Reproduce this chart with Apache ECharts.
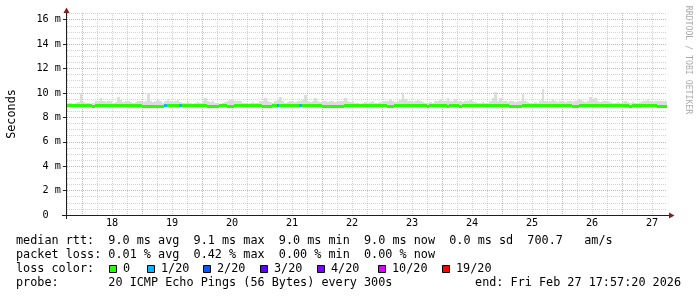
<!DOCTYPE html>
<html><head><meta charset="utf-8">
<script src="https://cdn.jsdelivr.net/npm/echarts@6/dist/echarts.min.js"></script>
<style>html,body{margin:0;padding:0;background:#fff}#c{width:697px;height:297px}</style>
</head><body><div id="c"></div>
<script>
// ---- time base: hours after Feb 17 2026 00:00 ----
const startHour = 17 + 57/60 + 20/3600;   // Feb 17 17:57:20
const endHour = startHour + 240;          // Feb 27 17:57:20
const stepHours = 1;

// ---- tick data ----
const dayLabels = ['18','19','20','21','22','23','24','25','26','27'];
const dayLabelHours = [36,60,84,108,132,156,180,204,228,252];     // noon of each day
const midnightHours = [24,48,72,96,120,144,168,192,216,240];
const sixHourHours = [18,30,36,42,54,60,66,78,84,90,102,108,114,126,132,138,150,156,162,174,180,186,198,204,210,222,228,234,246,252];
const yMajorTicks = [0,2,4,6,8,10,12,14,16];
const yMajorLabels = ['0  ','2 m','4 m','6 m','8 m','10 m','12 m','14 m','16 m'];
const yMinorTicks = [0.5,1,1.5,2.5,3,3.5,4.5,5,5.5,6.5,7,7.5,8.5,9,9.5,10.5,11,11.5,12.5,13,13.5,14.5,15,15.5,16.5];

// ---- series data (ms), one value per hour ----
const medianMs = [
9,9,9,9,9,9,9,9,9,9, 8.92,9,9,9,9,9,9,9,9,9,
9,9,9,9,8.96,8.96,8.96,8.96,8.96,8.96, 8.92,8.92,8.92,8.92,8.92,8.92,8.92,8.92,8.92,9,
9,9,9,9,9,9,9,9,9,9, 9,9,9,9,9,9,8.92,8.92,8.92,8.92,
8.92,9,9,9,8.92,8.92,8.92,9,9,9, 9,9,9,9,9,9,9,9,8.92,8.92,
8.92,8.92,9,9,9,9,9,9,9,9, 9,9,9,9,9,9,9,9,9,9,
9,9,8.92,8.92,8.92,8.92,8.92,8.92,8.92,8.92, 8.92,9,9,9,9,9,9,9,9,9,
9,9,9,9,9,9,9,9,8.92,8.92, 8.92,9,9,9,9,9,9,9,9,9,
9,9,9,9,8.92,9,9,9,9,9, 9,9,8.92,9,9,9,9,8.92,9,9,
9,9,9,9,9,9,9,9,9,9, 9,9,9,9,9,9,9,8.92,8.92,8.92,
8.92,8.92,9,9,9,9,9,9,9,9, 9,9,9,9,9,9,9,9,9,9,
9,9,8.92,8.92,8.92,9,9,9,9,9, 9,9,9,9,9,9,9,9,9,9,
9,9,9,9,9,8.92,9,9,9,9, 9,9,9,9,9,9,8.9,8.9,8.9,8.9
];
const smokeHiMs = [
9.2,9.2,9.1,9.2,9.25,9.97,9.25,9.2,9.2,9.1, 9.2,9.3,9.35,9.56,9.3,9.25,9.3,9.3,9.2,9.25,
9.7,9.4,9.25,9.3,9.35,9.25,9.2,9.25,9.3,9.3, 9.25,9.35,9.97,9.3,9.25,9.3,9.4,9.3,9.2,9.3,
9.5,9.3,9.25,9.3,9.4,9.25,9.2,9.2,9.25,9.2, 9.1,9.2,9.25,9.2,9.3,9.56,9.3,9.25,9.3,9.2,
9.2,9.1,9.2,9.25,9.3,9.4,9.4,9.3,9.35,9.3, 9.2,9.2,9.1,9.2,9.25,9.2,9.2,9.3,9.35,9.56,
9.3,9.25,9.2,9.3,9.5,9.7,9.3,9.2,9.25,9.3, 9.3,9.25,9.3,9.3,9.4,9.84,9.3,9.25,9.3,9.56,
9.3,9.25,9.3,9.3,9.25,9.3,9.3,9.25,9.3,9.35, 9.3,9.56,9.3,9.25,9.3,9.2,9.2,9.1,9.2,9.25,
9.2,9.25,9.3,9.2,9.2,9.25,9.3,9.3,9.35,9.5, 9.3,9.25,9.3,9.4,9.97,9.5,9.3,9.3,9.25,9.3,
9.4,9.3,9.25,9.2,9.2,9.25,9.2,9.3,9.35,9.5, 9.3,9.3,9.6,9.3,9.35,9.5,9.3,9.3,9.25,9.3,
9.3,9.4,9.3,9.25,9.2,9.2,9.25,9.2,9.2,9.3, 9.6,10.1,9.3,9.6,9.3,9.3,9.25,9.3,9.3,9.25,
9.3,9.35,9.9,9.3,9.25,9.2,9.2,9.25,9.2,9.3, 10.3,9.35,9.25,9.3,9.5,9.3,9.25,9.3,9.3,9.25,
9.3,9.3,9.25,9.3,9.5,9.4,9.3,9.25,9.3,9.7, 9.4,9.6,9.3,9.25,9.3,9.3,9.3,9.25,9.2,9.2,
9.25,9.2,9.25,9.3,9.25,9.2,9.25,9.2,9.2,9.25, 9.3,9.35,9.5,9.3,9.25,9.3,9.3,9.35,9.3,9.3
];
const smokeLoMs = [
8.95,8.95,8.95,8.95,8.95,8.95,8.95,8.95,8.95,8.95, 8.95,8.95,8.95,8.95,8.95,8.95,8.95,8.95,8.95,8.95,
8.95,8.95,8.95,8.95,8.78,8.78,8.78,8.78,8.78,8.78, 8.95,8.95,8.95,8.95,8.95,8.95,8.95,8.95,8.95,8.95,
8.95,8.95,8.95,8.95,8.95,8.95,8.95,8.95,8.95,8.95, 8.95,8.95,8.95,8.95,8.95,8.95,8.95,8.95,8.95,8.95,
8.95,8.95,8.95,8.95,8.95,8.95,8.95,8.95,8.95,8.95, 8.95,8.95,8.95,8.95,8.95,8.95,8.95,8.95,8.78,8.78,
8.78,8.78,8.78,8.95,8.95,8.95,8.95,8.95,8.95,8.95, 8.95,8.95,8.95,8.95,8.95,8.95,8.95,8.95,8.95,8.95,
8.95,8.95,8.95,8.95,8.95,8.95,8.95,8.95,8.95,8.95, 8.95,8.95,8.95,8.95,8.95,8.95,8.95,8.95,8.95,8.95,
8.95,8.95,8.95,8.95,8.95,8.95,8.95,8.95,8.95,8.95, 8.95,8.95,8.95,8.95,8.95,8.95,8.95,8.95,8.95,8.95,
8.95,8.95,8.95,8.95,8.95,8.95,8.95,8.95,8.95,8.95, 8.78,8.78,8.78,8.78,8.95,8.95,8.95,8.95,8.95,8.95,
8.95,8.95,8.95,8.95,8.95,8.95,8.95,8.95,8.95,8.95, 8.95,8.95,8.95,8.95,8.95,8.95,8.95,8.95,8.95,8.95,
8.95,8.95,8.95,8.95,8.95,8.95,8.95,8.95,8.95,8.95, 8.95,8.95,8.95,8.95,8.95,8.95,8.95,8.95,8.95,8.95,
8.95,8.95,8.95,8.95,8.95,8.95,8.95,8.95,8.95,8.95, 8.95,8.95,8.95,8.95,8.95,8.95,8.95,8.95,8.95,8.95,
8.95,8.95,8.78,8.78,8.78,8.78,8.78,8.78,8.78,8.78, 8.95,8.95,8.95,8.95,8.95,8.95,8.78,8.78,8.78,8.78
];
// loss (pings lost of 20) at given hourly bins; all other bins lost 0
const lossBins = [39,45,84,93];
const lossPings = [1,1,1,1];

// ---- legend data ----
const lossLevels = [0,1,2,3,4,10,19];
const lossLabels = ['0','1/20','2/20','3/20','4/20','10/20','19/20'];
const lossColors = ['#26ff00','#00b8ff','#0059ff','#5e00ff','#7e00ff','#dd00ff','#ff0000'];
const rttLine = 'median rtt:  9.0 ms avg  9.1 ms max  9.0 ms min  9.0 ms now  0.0 ms sd  700.7   am/s';
const lossLine = 'packet loss: 0.01 % avg  0.42 % max  0.00 % min  0.00 % now';
const probeLine = 'probe:       20 ICMP Echo Pings (56 Bytes) every 300s';
const endLine = 'end: Fri Feb 27 17:57:20 2026';

function colorForLoss(n){
  let c = lossColors[0];
  for (let k=0;k<lossLevels.length;k++) if (n>=lossLevels[k]) c = lossColors[k];
  return c;
}

const lossArr = medianMs.map(()=>0);
lossBins.forEach((b,k)=>{ lossArr[b] = lossPings[k]; });
const binHour = i => startHour + (i+0.5)*stepHours;
const smokeData = smokeHiMs.map((hi,i)=>[binHour(i), smokeLoMs[i], hi]);
const medianData = medianMs.map((m,i)=>[binHour(i), m, lossArr[i]]);

const MONO = "'DejaVu Sans Mono', monospace";
const LEG_FS = 11.8, AX_FS = 10.2;
const majorColor = 'rgba(222,79,79,0.5)';
const minorColor = 'rgba(143,143,143,0.38)';

const chart = echarts.init(document.getElementById('c'), null, {renderer:'canvas'});

const graphics = [];
// axes lines & arrows
graphics.push({type:'line', z:100, shape:{x1:66.5,y1:12,x2:66.5,y2:219}, style:{stroke:'#1f1f1f',lineWidth:1}});
graphics.push({type:'line', z:100, shape:{x1:62,y1:215.5,x2:670,y2:215.5}, style:{stroke:'#1f1f1f',lineWidth:1}});
graphics.push({type:'polygon', z:101, shape:{points:[[63.5,13],[69.5,13],[66.5,7.5]]}, style:{fill:'#801f1f'}});
graphics.push({type:'polygon', z:101, shape:{points:[[669,212.5],[669,218.5],[674.5,215.5]]}, style:{fill:'#801f1f'}});
// y title
graphics.push({type:'text', x:11.5, y:114, rotation:Math.PI/2, style:{text:'Seconds', font:LEG_FS+'px '+MONO, fill:'#000', align:'center', verticalAlign:'middle'}});
// watermark
graphics.push({type:'text', x:688, y:60, rotation:-Math.PI/2, style:{text:'RRDTOOL / TOBI OETIKER', font:'8.2px '+MONO, fill:'#aaaaaa', align:'center', verticalAlign:'middle'}});
// legend rows
const rowY = [241, 255, 269.2, 283.3];
graphics.push({type:'text', x:16, y:rowY[0], style:{text:rttLine, font:LEG_FS+'px '+MONO, fill:'#000', verticalAlign:'middle'}});
graphics.push({type:'text', x:16, y:rowY[1], style:{text:lossLine, font:LEG_FS+'px '+MONO, fill:'#000', verticalAlign:'middle'}});
graphics.push({type:'text', x:16, y:rowY[2], style:{text:'loss color:', font:LEG_FS+'px '+MONO, fill:'#000', verticalAlign:'middle'}});
const boxX = [109,147,203,260,317,378,442];
lossLabels.forEach((lab,k)=>{
  graphics.push({type:'rect', shape:{x:boxX[k]+0.5, y:265.5, width:7, height:7}, style:{fill:lossColors[k], stroke:'#000', lineWidth:1}});
  graphics.push({type:'text', x:boxX[k]+14, y:rowY[2], style:{text:lab, font:LEG_FS+'px '+MONO, fill:'#000', verticalAlign:'middle'}});
});
graphics.push({type:'text', x:16, y:rowY[3], style:{text:probeLine, font:LEG_FS+'px '+MONO, fill:'#000', verticalAlign:'middle'}});
graphics.push({type:'text', x:681, y:rowY[3], style:{text:endLine, font:LEG_FS+'px '+MONO, fill:'#000', align:'right', verticalAlign:'middle'}});

const yMax = 16.55;
const option = {
  animation:false,
  backgroundColor:'#ffffff',
  grid:{left:67, right:30, top:13, bottom:82},
  xAxis:[
    {type:'value', min:startHour, max:endHour, position:'bottom',
     axisLine:{show:false}, axisTick:{show:false, customValues:dayLabelHours},
     splitLine:{show:false},
     axisLabel:{customValues:dayLabelHours, margin:3, color:'#000', fontFamily:MONO, fontSize:AX_FS,
       formatter:v=>{const k=dayLabelHours.indexOf(Math.round(v)); return k>=0?dayLabels[k]:'';}}},
    {type:'value', min:startHour, max:endHour, position:'bottom',
     axisLine:{show:false}, axisLabel:{show:false}, axisTick:{show:false, customValues:sixHourHours},
     splitLine:{show:true, lineStyle:{color:minorColor, width:1, type:[1,1]}}},
    {type:'value', min:startHour, max:endHour, position:'bottom',
     axisLine:{show:false}, axisLabel:{show:false}, axisTick:{show:false, customValues:midnightHours},
     splitLine:{show:true, lineStyle:{color:majorColor, width:1, type:[1,1]}}}
  ],
  yAxis:[
    {type:'value', min:0, max:yMax, position:'right',
     axisLine:{show:false}, axisLabel:{show:false}, axisTick:{show:false, customValues:yMinorTicks},
     splitLine:{show:true, lineStyle:{color:minorColor, width:1, type:[1,1]}}},
    {type:'value', min:0, max:yMax, position:'left', offset:1,
     axisLine:{show:false},
     axisTick:{show:true, length:3, customValues:yMajorTicks, lineStyle:{color:'#1f1f1f'}},
     axisLabel:{customValues:yMajorTicks, margin:5, color:'#000', fontFamily:MONO, fontSize:AX_FS,
       formatter:v=>{const k=yMajorTicks.indexOf(Math.round(v)); return k>=0?yMajorLabels[k]:'';}},
     splitLine:{show:true, lineStyle:{color:majorColor, width:1, type:[1,1]}}}
  ],
  series:[
    {type:'custom', name:'smoke', xAxisIndex:0, yAxisIndex:0, clip:true, data:smokeData,
     renderItem:(params, api)=>{
       const t = api.value(0);
       const x0 = Math.round(api.coord([t-stepHours/2, 0])[0]);
       const x1 = Math.round(api.coord([t+stepHours/2, 0])[0]);
       const yTop = Math.round(api.coord([t, api.value(2)])[1]);
       const yBot = Math.round(api.coord([t, api.value(1)])[1]);
       return {type:'rect', shape:{x:x0, y:yTop, width:x1-x0, height:yBot-yTop}, style:{fill:'#dcdcdc'}};
     }},
    {type:'custom', name:'median', xAxisIndex:0, yAxisIndex:0, clip:true, data:medianData,
     renderItem:(params, api)=>{
       const t = api.value(0);
       const x0 = Math.round(api.coord([t-stepHours/2, 0])[0]);
       const x1 = Math.round(api.coord([t+stepHours/2, 0])[0]);
       const yc = api.coord([t, api.value(1)])[1];
       return {type:'rect', shape:{x:x0, y:Math.round(yc-1.5), width:x1-x0, height:3}, style:{fill:colorForLoss(api.value(2))}};
     }}
  ],
  graphic:graphics
};
chart.setOption(option);
</script></body></html>
